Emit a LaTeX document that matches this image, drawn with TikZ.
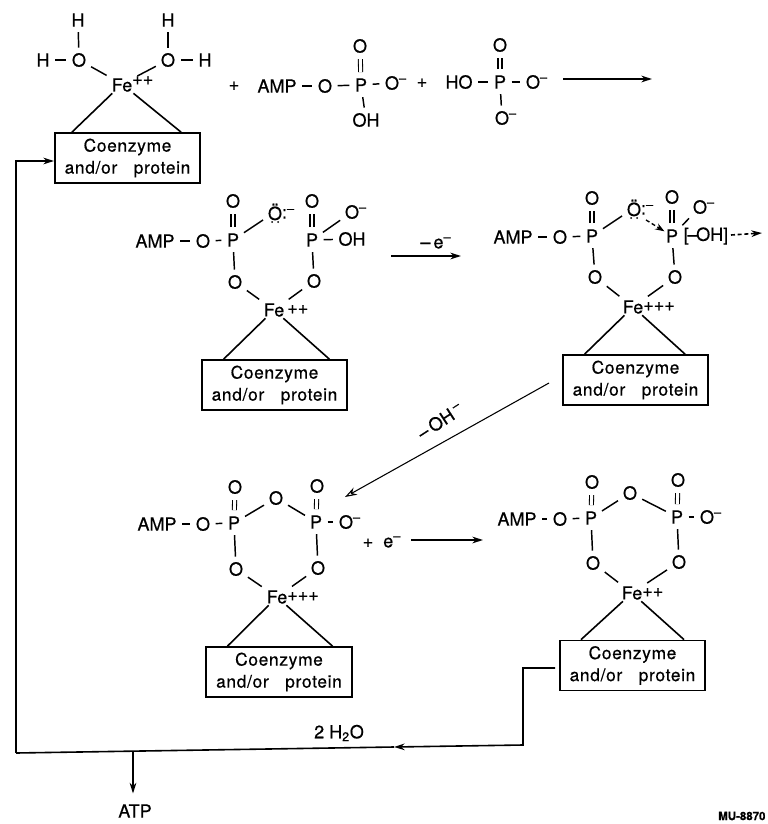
\documentclass[tikz,border=0pt]{standalone}
\usepackage{fontspec}
\setmainfont[FakeBold=0.5]{TeX Gyre Heros}
\newfontfamily\enzfont[LetterSpace=4,FakeBold=0.5]{TeX Gyre Heros}
\usetikzlibrary{arrows.meta}
\tikzset{
  atom/.style={inner sep=1pt,font=\fontsize{13.5}{16}\selectfont},
  bond/.style={line width=1.1pt,shorten >=3pt,shorten <=3pt},
  dbond/.style={bond,double,double distance=2.2pt,line width=0.8pt,shorten >=3.5pt,shorten <=3.5pt},
  link/.style={line width=1.2pt},
  enzbox/.style={draw,line width=1.3pt,minimum width=109pt,minimum height=37.5pt,align=center,inner sep=0pt,font=\enzfont\fontsize{13}{16.5}\selectfont},
  flow/.style={line width=1.2pt,-{Stealth[length=8pt,width=5pt]}}
}
\newcommand{\ionm}{\rlap{\textsuperscript{--}}}
\newcommand{\enz}{Coenzyme\\and/or\ \ \ protein}
\begin{document}
\begin{tikzpicture}[x=0.75pt,y=0.75pt,yscale=-1,xscale=1]
\useasboundingbox (0,0) rectangle (767,824);

% Top complex
\node[atom] (hla) at (78,20) {H};
\node[atom] (hlb) at (43,60) {H};
\node[atom] (ola) at (79,60) {O};
\node[atom] (hra) at (168,20) {H};
\node[atom] (ora) at (168,60) {O};
\node[atom] (hrb) at (205,60) {H};
\node[atom] (fea) at (122,84) {Fe\rlap{\raisebox{5pt}{++}}};
\node[enzbox] (boxa) at (127.5,158) {\enz};
\draw[bond] (hla) -- (ola);
\draw[bond] (hlb) -- (ola);
\draw[bond] (hra) -- (ora);
\draw[bond] (hrb) -- (ora);
\draw[bond] (ola) -- (fea);
\draw[bond] (ora) -- (fea);
\draw[link] (fea) -- ([xshift=13.5pt]boxa.north west);
\draw[link] (fea) -- ([xshift=-15pt]boxa.north east);

% Top reagents
\node[atom] (plusa) at (234,86) {+};
\node[atom] (ampa) at (277,86) {AMP};
\node[atom] (oa) at (325,86) {O};
\node[atom] (pa) at (361,85) {P};
\node[atom] (oatop) at (360,46) {O};
\node[atom] (ohbot) at (366,120) {OH};
\node[atom] (oaneg) at (392,83) {O\ionm};
\node[atom] (plusb) at (422,83) {+};
\node[atom] (hob) at (459,82) {HO};
\node[atom] (pb) at (500,82) {P};
\node[atom] (obtop) at (500,45) {O};
\node[atom] (obneg) at (533,82) {O\ionm};
\node[atom] (obbot) at (502,118) {O\ionm};
\draw[bond] (ampa) -- (oa);
\draw[bond] (oa) -- (pa);
\draw[dbond] (pa) -- (oatop);
\draw[bond] (pa) -- (ohbot);
\draw[bond] (pa) -- (oaneg);
\draw[bond] (hob) -- (pb);
\draw[dbond] (pb) -- (obtop);
\draw[bond] (pb) -- (obneg);
\draw[bond] (pb) -- (obbot);
\coordinate (arra) at (563,79);
\coordinate (arrb) at (652,79);
\draw[flow] (arra) -- (arrb);

% Middle left
\node[atom] (ampc) at (155,241) {AMP};
\node[atom] (oc) at (203,241) {O};
\node[atom] (pc) at (233,240) {P};
\node[atom] (octop) at (233,201) {O};
\node[atom] (oxc) at (275,212) {Ö\rlap{\raisebox{1pt}{:}\textsuperscript{--}}};
\node[atom] (qc) at (312,240) {P};
\node[atom] (qctop) at (312,201) {O};
\node[atom] (qcneg) at (352,212) {O\ionm};
\node[atom] (ohc) at (352,239) {OH};
\node[atom] (olc) at (235,282) {O};
\node[atom] (orc) at (314,281) {O};
\node[atom] (fec) at (274,310) {Fe\rlap{\raisebox{2pt}{\,++}}};
\node[enzbox] (boxc) at (274.5,385) {\enz};
\draw[bond] (ampc) -- (oc);
\draw[bond] (oc) -- (pc);
\draw[dbond] (pc) -- (octop);
\draw[bond] (pc) -- (oxc);
\draw[dbond] (qc) -- (qctop);
\draw[bond] (qc) -- (qcneg);
\draw[bond] (qc) -- (ohc);
\draw[bond] (pc) -- (olc);
\draw[bond] (qc) -- (orc);
\draw[bond] (olc) -- (fec);
\draw[bond] (orc) -- (fec);
\draw[link] (fec) -- ([xshift=17pt]boxc.north west);
\draw[link] (fec) -- ([xshift=-14pt]boxc.north east);
\foreach \dx in {-3,3} \fill (oxc)+(\dx,10) circle (1);

% Electron loss
\node[atom] (lossa) at (432,243) {--\,e\ionm};
\coordinate (arrc) at (391,256);
\coordinate (arrd) at (461,256);
\draw[flow] (arrc) -- (arrd);

% Middle right
\node[atom] (ampd) at (513,237) {AMP};
\node[atom] (od) at (560,237) {O};
\node[atom] (pd) at (592,236) {P};
\node[atom] (odtop) at (592,198) {O};
\node[atom] (oxd) at (634,208) {Ö\rlap{\raisebox{1pt}{:}\textsuperscript{--}}};
\node[atom] (qd) at (672,236) {P};
\node[atom] (qdtop) at (672,197) {O};
\node[atom] (qdneg) at (700,207) {O\ionm};
\node[atom] (ohd) at (706,236) {[\kern-1pt--\kern-1pt OH]};
\node[atom] (old) at (595,277) {O};
\node[atom] (ord) at (675,277) {O};
\node[atom] (fed) at (633,307) {Fe\rlap{\raisebox{2pt}{+++}}};
\node[enzbox] (boxd) at (635.5,380) {\enz};
\draw[bond] (ampd) -- (od);
\draw[bond] (od) -- (pd);
\draw[dbond] (pd) -- (odtop);
\draw[bond] (pd) -- (oxd);
\draw[dbond] (qd) -- (qdtop);
\draw[bond] (qd) -- (qdneg);
\draw[bond] (pd) -- (old);
\draw[bond] (qd) -- (ord);
\draw[bond] (old) -- (fed);
\draw[bond] (ord) -- (fed);
\draw[link] (fed) -- ([xshift=17pt]boxd.north west);
\draw[link] (fed) -- ([xshift=-18pt]boxd.north east);
\foreach \dx in {-3,3} \fill (oxd)+(\dx,10) circle (1);
\draw[line width=1pt,densely dashed,shorten <=3pt,-{Stealth[length=7pt,width=5pt]}] (oxd.south east) -- (qd);
\coordinate (arre) at (731,235);
\coordinate (arrf) at (762,233);
\draw[flow,densely dashed] (arre) -- (arrf);

% Hydroxide loss
\coordinate (arrg) at (549,383);
\coordinate (arrh) at (345,497);
\draw[line width=0.8pt,-{Stealth[length=9pt,width=6pt,open]}] (arrg) -- (arrh);
\node[atom,rotate=33] (lossb) at (437,423) {--\,OH\,\ionm};

% Lower left
\node[atom] (ampf) at (157,524) {AMP};
\node[atom] (of) at (203,524) {O};
\node[atom] (pf) at (234,523) {P};
\node[atom] (oftop) at (235,487) {O};
\node[atom] (ofring) at (276,498) {O};
\node[atom] (qf) at (316,522) {P};
\node[atom] (qftop) at (317,486) {O};
\node[atom] (qfneg) at (346,522) {O\ionm};
\node[atom] (olf) at (236,569) {O};
\node[atom] (orf) at (318,568) {O};
\node[atom] (fef) at (277,597) {Fe\rlap{\raisebox{2pt}{+++}}};
\node[enzbox] (boxf) at (279,672) {\enz};
\draw[bond] (ampf) -- (of);
\draw[bond] (of) -- (pf);
\draw[dbond] (pf) -- (oftop);
\draw[bond] (pf) -- (ofring);
\draw[bond] (ofring) -- (qf);
\draw[dbond] (qf) -- (qftop);
\draw[bond] (qf) -- (qfneg);
\draw[bond] (pf) -- (olf);
\draw[bond] (qf) -- (orf);
\draw[bond] (olf) -- (fef);
\draw[bond] (orf) -- (fef);
\draw[link] (fef) -- ([xshift=16.5pt]boxf.north west);
\draw[link] (fef) -- ([xshift=-15pt]boxf.north east);

% Electron gain
\node[atom] (gain) at (378,542) {+\ \ e\ionm};
\coordinate (arri) at (411,540);
\coordinate (arrj) at (483,540);
\draw[flow] (arri) -- (arrj);

% Lower right
\node[atom] (ampg) at (517,519) {AMP};
\node[atom] (og) at (560,519) {O};
\node[atom] (pg) at (591,518) {P};
\node[atom] (ogtop) at (592,482) {O};
\node[atom] (ogring) at (630,493) {O};
\node[atom] (qg) at (677,517) {P};
\node[atom] (qgtop) at (678,480) {O};
\node[atom] (qgneg) at (707,517) {O\ionm};
\node[atom] (olg) at (593,563) {O};
\node[atom] (org) at (679,562) {O};
\node[atom] (feg) at (632,593) {Fe\rlap{\raisebox{2pt}{++}}};
\node[enzbox] (boxg) at (632.5,665.5) {\enz};
\draw[bond] (ampg) -- (og);
\draw[bond] (og) -- (pg);
\draw[dbond] (pg) -- (ogtop);
\draw[bond] (pg) -- (ogring);
\draw[bond] (ogring) -- (qg);
\draw[dbond] (qg) -- (qgtop);
\draw[bond] (qg) -- (qgneg);
\draw[bond] (pg) -- (olg);
\draw[bond] (qg) -- (org);
\draw[bond] (olg) -- (feg);
\draw[bond] (org) -- (feg);
\draw[link] (feg) -- ([xshift=16.5pt]boxg.north west);
\draw[link] (feg) -- ([xshift=-16.5pt]boxg.north east);

% Return lines
\coordinate (retup) at (16,753);
\coordinate (reta) at (16,161);
\coordinate (retb) at (523,668);
\coordinate (retc) at (523,745);
\coordinate (retd) at (555,668);
\coordinate (rete) at (394,747);
\coordinate (atpa) at (133,752);
\node[atom] (water) at (339,733) {2 H\textsubscript{2}O};
\node[atom] (atp) at (135,811) {ATP};
\draw[flow] (retup) -- (reta) -- (boxa.west |- reta);
\draw[link] (retup) -- (rete);
\draw[flow] (retd) -- (retb) -- (retc) -- (rete);
\draw[flow,line width=1pt,shorten >=7pt] (atpa) -- (atpa |- atp.north);

\node[inner sep=0pt,anchor=west,font=\fontsize{8.6}{10}\bfseries\selectfont] (mark) at (718,816) {MU-8870};
\end{tikzpicture}
\end{document}
